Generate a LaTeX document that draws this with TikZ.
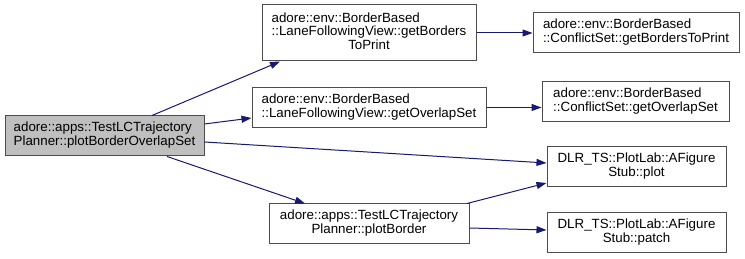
\documentclass[tikz,border=0pt]{standalone}
\usepackage{fontspec}
\setmainfont{Liberation Sans}
\usepackage{xcolor}
\usepackage{tikz}
\usetikzlibrary{arrows.meta,calc}

\definecolor{edgeblue}{HTML}{191970}
\definecolor{rootgray}{HTML}{BFBFBF}

\newcommand{\fnname}[2]{\begin{tabular}{@{}l@{}}#1\\\multicolumn{1}{@{}c@{}}{#2}\end{tabular}}

\tikzset{
	fnbox/.style={draw=black!70,line width=0.75pt,fill=white,inner sep=0pt,
		minimum height=30pt,font=\fontsize{10}{10}\selectfont},
	call/.style={edgeblue,line width=0.75pt,-{Triangle[length=7.5pt,width=5.25pt]}}
}

\begin{document}
\begin{tikzpicture}[x=0.75pt,y=-0.75pt]
	\useasboundingbox (0,0) rectangle (745,259);
	
	\node[fnbox,fill=rootgray,minimum width=149.25pt] (root) at (104.5,136) {\fnname{adore::apps::TestLCTrajectory}{Planner::plotBorderOverlapSet}};
	\node[fnbox,minimum width=160.5pt,minimum height=42pt] (lfvprint) at (369,33) {\fnname{adore::env::BorderBased\\::LaneFollowingView::getBorders}{ToPrint}};
	\node[fnbox,minimum width=175.5pt] (lfvoverlap) at (369,107.5) {\fnname{adore::env::BorderBased}{::LaneFollowingView::getOverlapSet}};
	\node[fnbox,minimum width=150pt] (plotborder) at (369,224) {\fnname{adore::apps::TestLCTrajectory}{Planner::plotBorder}};
	\node[fnbox,minimum width=154.5pt] (csprint) at (636,33) {\fnname{adore::env::BorderBased}{::ConflictSet::getBordersToPrint}};
	\node[fnbox,minimum width=140.25pt] (csoverlap) at (635.5,102) {\fnname{adore::env::BorderBased}{::ConflictSet::getOverlapSet}};
	\node[fnbox,minimum width=134.25pt] (plot) at (636.5,167) {\fnname{DLR\_TS::PlotLab::AFigure}{Stub::plot}};
	\node[fnbox,minimum width=134.25pt] (patch) at (636.5,233) {\fnname{DLR\_TS::PlotLab::AFigure}{Stub::patch}};
	
	\draw[call] ($(root.north)+(47.5,0)$) -- ($(lfvprint.south)+(-89,0)$);
	\draw[call] ($(root.east)+(0,-12)$) -- ($(lfvoverlap.west)+(0,10.5)$);
	\draw[call] ($(root.east)+(0,6)$) -- ($(plot.west)+(0,-4)$);
	\draw[call] ($(root.south)+(62.5,0)$) -- ($(plotborder.north)+(-64,0)$);
	\draw[call] (lfvprint.east) -- (csprint.west);
	\draw[call] (lfvoverlap.east) -- (lfvoverlap.east -| csoverlap.west);
	\draw[call] ($(plotborder.north)+(98,0)$) -- ($(plot.west)+(0,16)$);
	\draw[call] ($(plotborder.east)+(0,4)$) -- ($(patch.west)+(0,-3)$);
	
\end{tikzpicture}
\end{document}
